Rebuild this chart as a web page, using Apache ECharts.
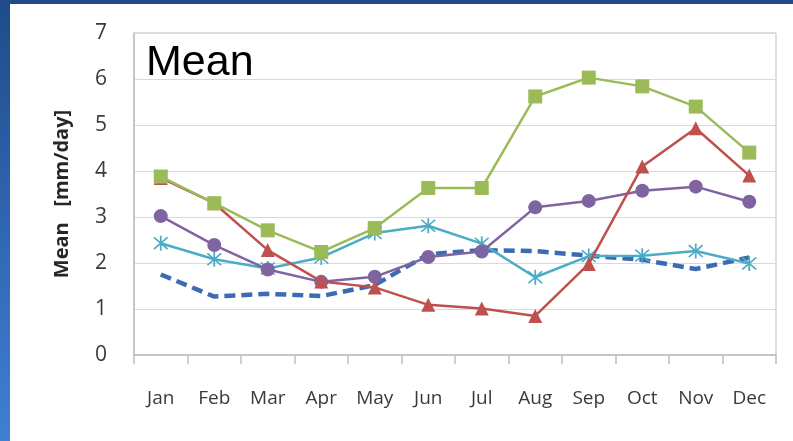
<!DOCTYPE html>
<html>
<head>
<meta charset="utf-8">
<script src="https://cdn.jsdelivr.net/npm/echarts@6/dist/echarts.min.js"></script>
<style>
  html, body { margin: 0; padding: 0; width: 793px; height: 441px; overflow: hidden; }
  body { background: linear-gradient(180deg, #1f4c88 0%, #2c60aa 40%, #3f80d2 100%); position: relative; }
  #panel { position: absolute; left: 10px; top: 4px; right: 0; bottom: 0; background: #ffffff; }
  #chart { position: absolute; left: 0; top: 0; width: 793px; height: 441px; }
</style>
</head>
<body>
<div id="panel"></div>
<div id="chart"></div>
<script>
// Monthly mean precipitation, mm/day
const months = ['Jan', 'Feb', 'Mar', 'Apr', 'May', 'Jun', 'Jul', 'Aug', 'Sep', 'Oct', 'Nov', 'Dec'];
const seriesGreen  = [3.88, 3.30, 2.71, 2.24, 2.76, 3.63, 3.63, 5.62, 6.03, 5.84, 5.40, 4.40];
const seriesRed    = [3.85, 3.30, 2.28, 1.60, 1.47, 1.09, 1.01, 0.85, 1.98, 4.10, 4.93, 3.90];
const seriesPurple = [3.02, 2.39, 1.86, 1.59, 1.70, 2.13, 2.25, 3.21, 3.35, 3.57, 3.66, 3.33];
const seriesCyan   = [2.43, 2.08, 1.88, 2.12, 2.65, 2.81, 2.42, 1.69, 2.15, 2.16, 2.26, 1.99];
const seriesDashed = [1.75, 1.27, 1.33, 1.28, 1.52, 2.19, 2.28, 2.26, 2.16, 2.07, 1.87, 2.12];
const yTicks = [0, 1, 2, 3, 4, 5, 6, 7];

// asterisk marker built from three thin bars
const asterisk = 'path://M9 0L11 0L11 20L9 20Z M1.4 2.8L2.8 1.4L18.6 17.2L17.2 18.6Z M17.2 1.4L18.6 2.8L2.8 18.6L1.4 17.2Z';

const chart = echarts.init(document.getElementById('chart'), null, { renderer: 'canvas' });

function lineSeries(data, color, symbol, size, extra) {
  return Object.assign({
    type: 'line',
    data: data,
    symbol: symbol,
    symbolSize: size,
    showSymbol: true,
    lineStyle: { color: color, width: 2.5 },
    itemStyle: { color: color },
    emphasis: { disabled: true },
    animation: false
  }, extra || {});
}

chart.setOption({
  animation: false,
  backgroundColor: 'transparent',
  title: {
    text: 'Mean',
    left: 146,
    top: 42,
    padding: 0,
    textStyle: { fontFamily: 'Liberation Sans', fontSize: 43, fontWeight: 'normal', color: '#000000' }
  },
  grid: {
    left: 134, right: 17, top: 33, bottom: 86,
    show: true, borderColor: '#bfbfbf', borderWidth: 1, backgroundColor: 'transparent'
  },
  xAxis: {
    type: 'category',
    data: months,
    boundaryGap: true,
    axisLine: { lineStyle: { color: '#bfbfbf', width: 1.5 } },
    axisTick: { show: true, length: 9, lineStyle: { color: '#bfbfbf', width: 1.5 }, alignWithLabel: false },
    axisLabel: { color: '#3a3a3a', fontFamily: 'Open Sans', fontSize: 19, margin: 34 },
    splitLine: { show: false }
  },
  yAxis: {
    type: 'value',
    min: yTicks[0],
    max: yTicks[yTicks.length - 1],
    interval: 1,
    name: 'Mean   [mm/day]',
    nameLocation: 'middle',
    nameGap: 62,
    nameTextStyle: { fontFamily: 'Open Sans', fontWeight: 'bold', fontSize: 20, color: '#262626' },
    axisLine: { show: true, lineStyle: { color: '#bfbfbf', width: 1.5 } },
    axisTick: { show: false },
    axisLabel: { color: '#3a3a3a', fontFamily: 'Open Sans', fontSize: 21, margin: 27 },
    splitLine: { show: true, lineStyle: { color: '#d9d9d9', width: 1 } }
  },
  series: [
    lineSeries(seriesDashed, '#3d6bb3', 'none', 0, { lineStyle: { color: '#3d6bb3', width: 4.5, type: [11, 6] }, z: 2 }),
    lineSeries(seriesCyan, '#4bacc6', asterisk, 15, { z: 3 }),
    lineSeries(seriesPurple, '#8064a2', 'circle', 14, { z: 4 }),
    lineSeries(seriesRed, '#c0504d', 'triangle', 14, { z: 5 }),
    lineSeries(seriesGreen, '#9bbb59', 'rect', 14, { z: 6 })
  ]
});
</script>
</body>
</html>
